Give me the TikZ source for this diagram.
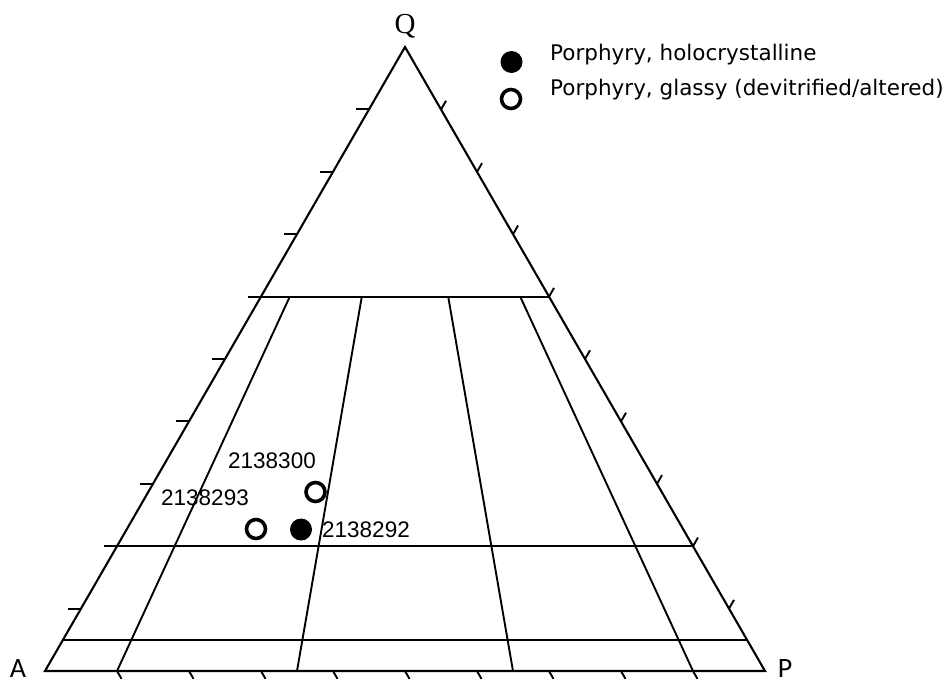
\documentclass[tikz,border=0pt]{standalone}
\usepackage{fontspec}
\setmainfont{Liberation Sans}
\newfontfamily\legfont{DejaVu Sans}
\newfontfamily\serifQ{Liberation Serif}
\newfontfamily\vtxfont{Carlito}
\usetikzlibrary{calc}
\begin{document}
\begin{tikzpicture}[x=1pt,y=-1pt,
  edge/.style={line width=2.1pt, line join=miter},
  gridline/.style={line width=1.9pt},
  tickmark/.style={line width=1.9pt},
  filledpt/.style={circle, fill=black, minimum size=22pt, inner sep=0pt},
  hollowpt/.style={circle, draw=black, line width=3.6pt, fill=white, minimum size=19pt, inner sep=0pt},
  numlab/.style={anchor=base west, inner sep=0pt, font=\fontsize{22.5}{24}\selectfont},
  leglab/.style={anchor=base west, inner sep=0pt, font=\legfont\fontsize{21.5}{24}\selectfont},
  vtxlab/.style={anchor=base, inner sep=0pt, font=\vtxfont\fontsize{28}{30}\selectfont},
]
\useasboundingbox (0,0) rectangle (947,683);
\coordinate (A) at (45,671);
\coordinate (P) at (765,671);
\coordinate (Q) at (405,47);

% ticks
\foreach \f in {0.1,0.2,...,0.9}{
  \draw[tickmark] ($(A)!\f!(Q)$) -- ++(-13,0);
  \draw[tickmark] ($(A)!\f!(P)$) -- ++(4.5,7.8);
  \draw[tickmark] ($(P)!\f!(Q)$) -- ++(5,-8.7);
}

% horizontal lines
\foreach \q in {0.6,0.2,0.05}{
  \draw[gridline] ($(A)!\q!(Q)$) -- ($(P)!\q!(Q)$);
}
% radial lines
\foreach \r in {0.1,0.35,0.65,0.9}{
  \coordinate (B) at ($(A)!\r!(P)$);
  \draw[gridline] (B) -- ($(B)!0.6!(Q)$);
}

% triangle
\draw[edge] (A) -- (P) -- (Q) -- cycle;

% vertex labels
\node[anchor=base, inner sep=0pt, font=\serifQ\fontsize{29}{31}\selectfont] (lq) at (405,33) {Q};
\node[vtxlab] (la) at (18,677) {A};
\node[vtxlab] (lp) at (785,677) {P};

% data points
\node[hollowpt] (s293) at (256,529) {};
\node[filledpt] (s292) at (301,529.5) {};
\node[hollowpt] (s300) at (315.5,492) {};
\node[numlab] (l300) at (228,468) {2138300};
\node[numlab] (l293) at (161,505) {2138293};
\node[numlab] (l292) at (322,537) {2138292};

% legend
\node[filledpt] (k1) at (511.5,62) {};
\node[hollowpt] (k2) at (511,99) {};
\node[leglab] (t1) at (550,60) {Porphyry, holocrystalline};
\node[leglab] (t2) at (550,95) {Porphyry, glassy (devitrified/altered)};
\end{tikzpicture}
\end{document}
